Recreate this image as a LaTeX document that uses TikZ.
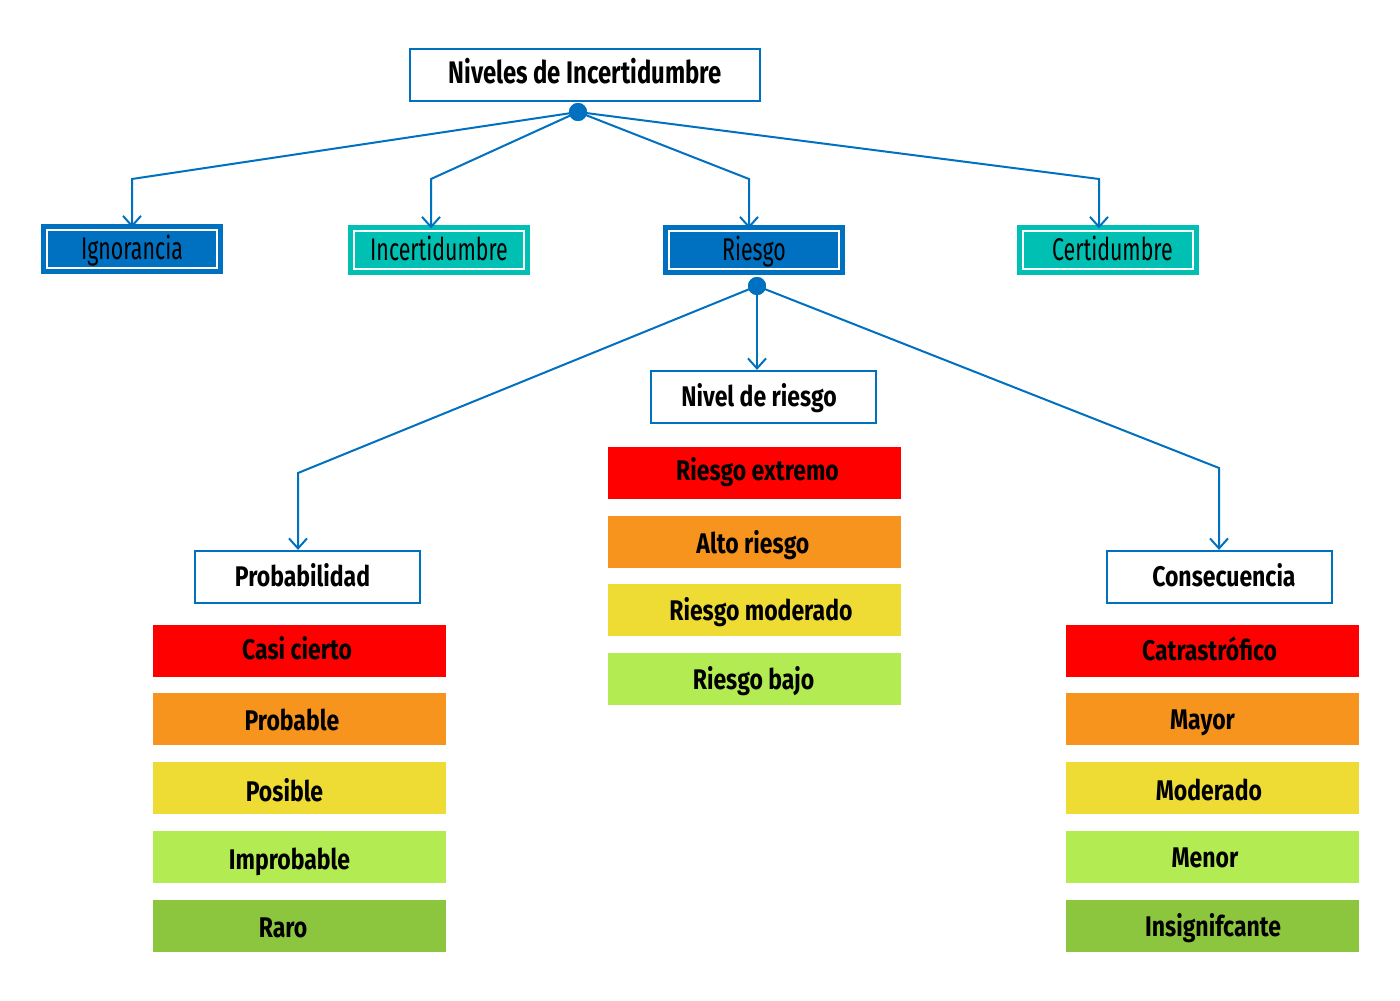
\documentclass[tikz,border=0pt]{standalone}
\usepackage{fontspec}
\setmainfont{Fira Sans}
\newfontfamily\titlefont{Fira Sans}[FakeStretch=0.765]
\newfontfamily\labfont{Fira Sans}[FakeStretch=0.81]
\newfontfamily\regfont{Fira Sans}[FakeStretch=0.68]
\usetikzlibrary{arrows.meta}
\definecolor{lineblue}{HTML}{0070C0}
\definecolor{boxblue}{HTML}{0070C0}
\definecolor{boxteal}{HTML}{00BFB3}
\definecolor{cred}{HTML}{FF0000}
\definecolor{corange}{HTML}{F7941E}
\definecolor{cyellow}{HTML}{EEDC34}
\definecolor{clgreen}{HTML}{B2EB52}
\definecolor{cgreen}{HTML}{8CC63F}
% shift text inside a node: #1 right, #2 up
\newcommand\tpos[3]{\hspace*{#1}\raisebox{#2}{#3}\hspace*{-#1}}
\tikzset{
  x=0.5pt, y=-0.5pt,
  conn/.style={draw=lineblue, line width=1pt, -{Straight Barb[length=5pt,width=9pt]}},
  junction/.style={circle, fill=lineblue, inner sep=0pt, minimum size=9pt},
  titlebox/.style={draw=lineblue, line width=1.1pt, fill=white, inner sep=0pt,
    minimum height=26pt, text height=10.75pt, text depth=0pt,
    font=\titlefont\fontsize{15.6}{18}\selectfont\bfseries},
  whitebox/.style={draw=lineblue, line width=1.1pt, fill=white, inner sep=0pt,
    minimum height=26pt, text height=9.8pt, text depth=0pt,
    font=\labfont\fontsize{14.2}{17}\selectfont\bfseries},
  framebox/.style={fill=#1, draw=white, line width=0.6pt, inner sep=0pt,
    minimum width=85pt, minimum height=19pt, line join=miter,
    preaction={draw=#1, line width=6pt},
    text height=10.8pt, text depth=0pt,
    font=\regfont\fontsize{15.7}{18}\selectfont},
  levelbox/.style={fill=#1, inner sep=0pt, minimum width=146.5pt, minimum height=26pt,
    text height=9.8pt, text depth=0pt,
    font=\labfont\fontsize{14.2}{17}\selectfont\bfseries},
}
\begin{document}
\begin{tikzpicture}
\useasboundingbox (0,0) rectangle (1400,1000);
% top
\node[titlebox, minimum width=175pt] (top) at (585,75) {\tpos{0pt}{1.25pt}{Niveles de Incertidumbre}};
\node[framebox=boxblue] (ign) at (132,249) {Ignorancia};
\node[framebox=boxteal] (inc) at (439,250) {Incertidumbre};
\node[framebox=boxblue] (rie) at (754,250) {Riesgo};
\node[framebox=boxteal] (cer) at (1108,250) {\tpos{2.2pt}{0pt}{Certidumbre}};
\node[junction] (dot1) at (578,112) {};
\coordinate (row1) at (0,179);
\draw[conn] (dot1.center) -- (ign.north |- row1) -- ([yshift=1pt]ign.north);
\draw[conn] (dot1.center) -- ([xshift=-4pt]inc.north |- row1) -- ([xshift=-4pt,yshift=1pt]inc.north);
\draw[conn] (dot1.center) -- ([xshift=-2.5pt]rie.north |- row1) -- ([xshift=-2.5pt,yshift=1pt]rie.north);
\draw[conn] (dot1.center) -- ([xshift=-4.5pt]cer.north |- row1) -- ([xshift=-4.5pt,yshift=1pt]cer.north);
\node[junction] at (dot1) {};
% second level
\node[whitebox, minimum width=112.5pt] (prob) at (307.5,577) {\tpos{-2.5pt}{0pt}{Probabilidad}};
\node[whitebox, minimum width=112.5pt] (niv) at (763.5,397) {\tpos{-2.2pt}{0pt}{Nivel de riesgo}};
\node[whitebox, minimum width=112.5pt] (cons) at (1219.5,577) {\tpos{2.2pt}{0pt}{Consecuencia}};
\node[junction] (dot2) at (757,286) {};
\coordinate (bp) at (298,473);
\coordinate (bc) at (1219,468);
\draw[conn] (dot2.center) -- (bp) -- (bp |- prob.north);
\draw[conn] (dot2.center) -- (dot2.center |- niv.north);
\draw[conn] (dot2.center) -- (bc) -- (bc |- cons.north);
\node[junction] at (dot2) {};
% middle column
\node[levelbox=cred] (m1) at (754.5,473) {\tpos{1.5pt}{1pt}{Riesgo extremo}};
\node[levelbox=corange] (m2) at (754.5,542) {\tpos{-0.8pt}{-0.9pt}{Alto riesgo}};
\node[levelbox=cyellow] (m3) at (754.5,610) {\tpos{3.2pt}{-0.5pt}{Riesgo moderado}};
\node[levelbox=clgreen] (m4) at (754.5,679) {\tpos{-0.5pt}{-0.5pt}{Riesgo bajo}};
% left column
\node[levelbox=cred] (l1) at (299.5,651) {\tpos{-1.2pt}{0.8pt}{Casi cierto}};
\node[levelbox=corange] (l2) at (299.5,719) {\tpos{-3.8pt}{-1pt}{Probable}};
\node[levelbox=cyellow] (l3) at (299.5,788) {\tpos{-7.5pt}{-2pt}{Posible}};
\node[levelbox=clgreen] (l4) at (299.5,857) {\tpos{-5pt}{-1.5pt}{Improbable}};
\node[levelbox=cgreen] (l5) at (299.5,926) {\tpos{-8.2pt}{-1pt}{Raro}};
% right column
\node[levelbox=cred] (r1) at (1212.5,651) {\tpos{-1.5pt}{0pt}{Catrastrófico}};
\node[levelbox=corange] (r2) at (1212.5,719) {\tpos{-5pt}{-0.5pt}{Mayor}};
\node[levelbox=cyellow] (r3) at (1212.5,788) {\tpos{-1.8pt}{-1.2pt}{Moderado}};
\node[levelbox=clgreen] (r4) at (1212.5,857) {\tpos{-3.8pt}{-0.5pt}{Menor}};
\node[levelbox=cgreen] (r5) at (1212.5,926) {\tpos{0.3pt}{-0.5pt}{Insignifcante}};
\end{tikzpicture}
\end{document}
